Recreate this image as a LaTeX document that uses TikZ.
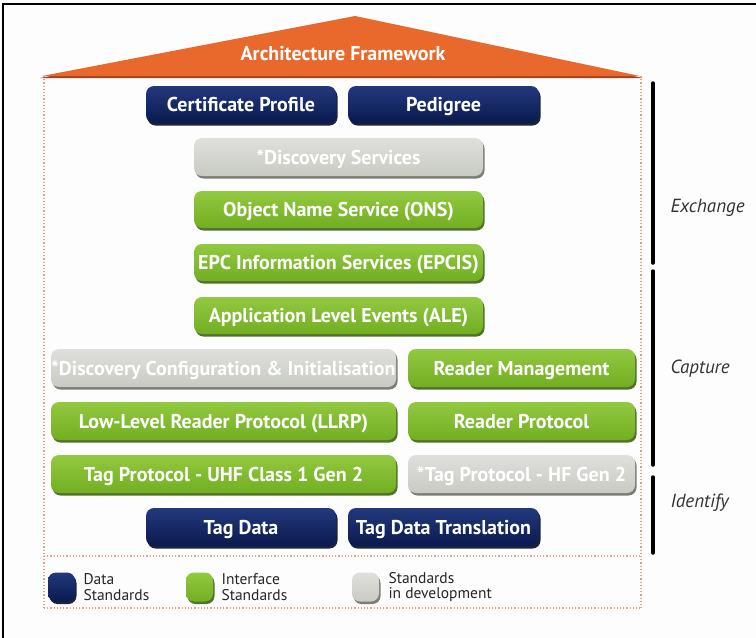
\documentclass[tikz,border=0pt]{standalone}
\usepackage{fontspec}
\setmainfont{PT Sans}
\usetikzlibrary{shadows}
\definecolor{navyT}{HTML}{23397E}
\definecolor{navyB}{HTML}{0A1A4E}
\definecolor{navyS}{HTML}{050C28}
\definecolor{grnT}{HTML}{92C940}
\definecolor{grnB}{HTML}{72AE22}
\definecolor{grnS}{HTML}{3F6412}
\definecolor{gryT}{HTML}{DFE0DC}
\definecolor{gryB}{HTML}{C8CAC3}
\definecolor{gryS}{HTML}{6E706A}
\definecolor{roof}{HTML}{E8692B}
\definecolor{roofS}{HTML}{A8421A}
\definecolor{dotc}{HTML}{EC9F80}
\definecolor{bg}{HTML}{FDFDFD}
\tikzset{
  x=1pt,y=-1pt,
  boxbase/.style={rounded corners=8pt, inner sep=0pt, font=\bfseries\fontsize{20}{22}\selectfont, text=white, text height=14pt, text depth=0pt},
  navybox/.style={boxbase, top color=navyT, bottom color=navyB, drop shadow={shadow xshift=1.5pt, shadow yshift=-2.5pt, fill=navyS, opacity=0.9}},
  grnbox/.style={boxbase, top color=grnT, bottom color=grnB, drop shadow={shadow xshift=1.5pt, shadow yshift=-2.5pt, fill=grnS, opacity=0.9}},
  grybox/.style={boxbase, top color=gryT, bottom color=gryB, text=white, drop shadow={shadow xshift=1.5pt, shadow yshift=-2.5pt, fill=gryS, opacity=0.9}},
  lbl/.style={font=\itshape\fontsize{19}{21}\selectfont, text=black!80, anchor=west},
  leg/.style={font=\fontsize{15.5}{15.5}\selectfont, text=black!85, anchor=west, align=left},
  bar/.style={line width=3.5pt, line cap=round, black},
  dotline/.style={dotc, dotted, line width=1.2pt},
}
\newcommand{\stdbox}[7]{% name style x1 y1 x2 y2 text
  \node[#2, minimum width={#5-#3}, minimum height={#6-#4}] (#1) at ({(#3+#5)/2},{(#4+#6)/2}) {#7};}
\begin{document}
\begin{tikzpicture}
\useasboundingbox (0,0) rectangle (756,638);
\fill[bg] (0,0) rectangle (756,638);
\draw[line width=2.5pt] (3,638) -- (3,4) -- (756,4);
% dotted frame
\draw[dotline] (44,76) -- (44,608);
\draw[dotline] (641,76) -- (641,608);
\draw[dotline] (44,556) -- (641,556);
\draw[dotline] (44,608) -- (641,608);
% roof
\fill[roofS] (40,78) -- (355,18) -- (643,78) -- cycle;
\fill[roof] (42,76) -- (355,16) -- (640,76) -- cycle;
\node[font=\bfseries\fontsize{20}{22}\selectfont, text=white, text height=14pt, text depth=0pt] (roofT) at (343,53) {Architecture Framework};
% boxes
\stdbox{cert}{navybox}{146}{86}{336}{123}{Certificate Profile}
\stdbox{ped}{navybox}{348}{86}{539}{123}{Pedigree}
\stdbox{disc}{grybox}{194}{138}{483}{176}{*Discovery Services}
\stdbox{ons}{grnbox}{194}{191}{483}{228}{Object Name Service (ONS)}
\stdbox{epcis}{grnbox}{194}{244}{483}{281}{EPC Information Services (EPCIS)}
\stdbox{ale}{grnbox}{194}{297}{483}{334}{Application Level Events (ALE)}
\stdbox{dci}{grybox}{51}{349}{396}{387}{*Discovery Configuration \& Initialisation}
\stdbox{rm}{grnbox}{408}{349}{635}{387}{Reader Management}
\stdbox{llrp}{grnbox}{51}{402}{396}{440}{Low-Level Reader Protocol (LLRP)}
\stdbox{rp}{grnbox}{408}{402}{635}{440}{Reader Protocol}
\stdbox{uhf}{grnbox}{51}{455}{396}{493}{Tag Protocol - UHF Class 1 Gen 2}
\stdbox{hf}{grybox}{408}{455}{635}{493}{*Tag Protocol - HF Gen 2}
\stdbox{td}{navybox}{146}{508}{336}{546}{Tag Data}
\stdbox{tdt}{navybox}{348}{508}{539}{546}{Tag Data Translation}
% side bars
\coordinate (e1) at (653,83); \coordinate (e2) at (653,263);
\coordinate (c1) at (653,271); \coordinate (c2) at (653,465);
\coordinate (i1) at (653,477); \coordinate (i2) at (653,553);
\draw[bar] (e1) -- (e2);
\draw[bar] (c1) -- (c2);
\draw[bar] (i1) -- (i2);
\node[lbl] (exch) at (667,208) {Exchange};
\node[lbl] (capt) at (667,369) {Capture};
\node[lbl] (iden) at (667,503) {Identify};
% legend
\node[navybox, minimum width=27, minimum height=29] (l1) at (61.5,587) {};
\node[grnbox, minimum width=27, minimum height=29] (l2) at (199.5,587) {};
\node[grybox, minimum width=27, minimum height=29] (l3) at (365.5,587) {};
\node[leg] (t1) at (80,587) {Data\\Standards};
\node[leg] (t2) at (218,587) {Interface\\Standards};
\node[leg] (t3) at (385,587) {Standards\\in development};
\end{tikzpicture}
\end{document}
